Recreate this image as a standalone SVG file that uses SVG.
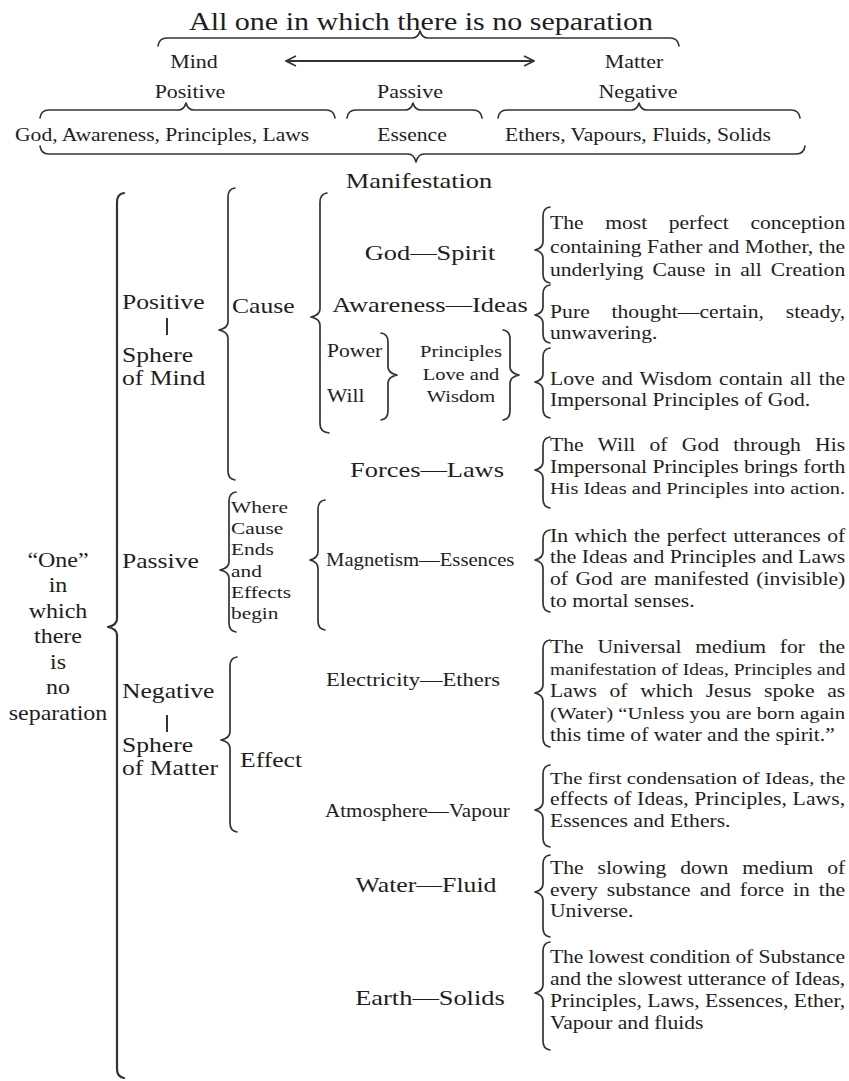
<svg xmlns="http://www.w3.org/2000/svg" width="849" height="1081" viewBox="0 0 849 1081">
<style>
text{font-family:"Liberation Serif","Times New Roman",serif;fill:#1e1e1e}
.m{text-anchor:middle}
.f25{font-size:25px}.f22{font-size:22px}.f21{font-size:21px}.f20{font-size:20px}.f18{font-size:18px}.f175{font-size:17.5px}.f185{font-size:18.5px}
.br{fill:none;stroke:#333;stroke-width:1.7;stroke-linecap:round;stroke-linejoin:round}
.big{stroke-width:2.2}
.bar{stroke:#333;stroke-width:2}
</style>
<defs>
<marker id="arr" viewBox="0 0 12 12" refX="11" refY="6" markerWidth="12" markerHeight="12" markerUnits="userSpaceOnUse" orient="auto-start-reverse">
<path d="M1,1 L11,6 L1,11" fill="none" stroke="#333" stroke-width="1.6"/>
</marker>
</defs>
<rect width="849" height="1081" fill="#fff"/>

<g id="connectors">
<path class="br" d="M158,46 Q159,38 167,38 L412,38 Q418,38 420,31 Q422,38 428,38 L670,38 Q678,38 679,46"/>
<line x1="286" y1="61" x2="534" y2="61" stroke="#333" stroke-width="1.8" marker-start="url(#arr)" marker-end="url(#arr)"/>
<path class="br" d="M40,118 Q41,110 49,110 L178,110 Q184,110 186,103 Q188,110 194,110 L326,110 Q334,110 335,118"/>
<path class="br" d="M347,118 Q348,110 356,110 L405,110 Q411,110 413,103 Q415,110 421,110 L473,110 Q481,110 482,118"/>
<path class="br" d="M498,118 Q499,110 507,110 L631,110 Q637,110 639,103 Q641,110 647,110 L791,110 Q799,110 800,118"/>
<path class="br" d="M40,146 Q41,154 49,154 L408,154 Q414,154 416,162 Q418,154 424,154 L796,154 Q804,154 805,146"/>
<path class="br big" d="M124,193 Q117,194 117,202 L117,619 Q117,625 108,627 Q117,629 117,635 L117,1069 Q117,1077 124,1078"/>
<path class="br" d="M235,188 Q228,189 228,197 L228,322 Q228,328 219,330 Q228,332 228,338 L228,471 Q228,479 235,480"/>
<path class="br" d="M327,193 Q320,194 320,202 L320,309 Q320,315 311,317 Q320,319 320,325 L320,424 Q320,432 329,433"/>
<path class="br" d="M236,492 Q229,493 229,501 L229,562 Q229,568 220,570 Q229,572 229,578 L229,623 Q229,631 236,632"/>
<path class="br" d="M325,500 Q318,501 318,509 L318,552 Q318,558 310,560 Q318,562 318,568 L318,621 Q318,629 325,630"/>
<path class="br" d="M237,657 Q230,658 230,666 L230,732 Q230,738 221,740 Q230,742 230,748 L230,823 Q230,831 237,832"/>
<path class="br" d="M381,333 Q388,334 388,342 L388,367 Q388,373 397,375 Q388,377 388,383 L388,411 Q388,419 381,420"/>
<path class="br" d="M503,330 Q510,331 510,339 L510,367 Q510,373 519,375 Q510,377 510,383 L510,411 Q510,419 503,420"/>
<path class="br" d="M550,207 Q543,208 543,216 L543,242 Q543,248 535,250 Q543,252 543,258 L543,274 Q543,282 550,283"/>
<path class="br" d="M550,285 Q543,286 543,294 L543,307 Q543,313 535,315 Q543,317 543,323 L543,334 Q543,342 550,343"/>
<path class="br" d="M550,348 Q543,349 543,357 L543,374 Q543,380 535,382 Q543,384 543,390 L543,409 Q543,417 550,418"/>
<path class="br" d="M550,437 Q543,438 543,446 L543,462 Q543,468 535,470 Q543,472 543,478 L543,499 Q543,507 550,508"/>
<path class="br" d="M550,530 Q543,531 543,539 L543,552 Q543,558 535,560 Q543,562 543,568 L543,603 Q543,611 550,612"/>
<path class="br" d="M550,640 Q543,641 543,649 L543,685 Q543,691 535,693 Q543,695 543,701 L543,738 Q543,746 550,747"/>
<path class="br" d="M550,765 Q543,766 543,774 L543,802 Q543,808 535,810 Q543,812 543,818 L543,838 Q543,846 550,847"/>
<path class="br" d="M550,855 Q543,856 543,864 L543,884 Q543,890 535,892 Q543,894 543,900 L543,928 Q543,936 550,937"/>
<path class="br" d="M550,942 Q543,943 543,951 L543,985 Q543,991 535,993 Q543,995 543,1001 L543,1041 Q543,1049 550,1050"/>
</g>

<g id="title"><text class="f25 m" transform="translate(421,30) scale(1.2,1)">All one in which there is no separation</text></g>
<g id="mind"><text class="f18 m" transform="translate(194,68) scale(1.22,1)">Mind</text></g>
<g id="matter"><text class="f18 m" transform="translate(634,68) scale(1.22,1)">Matter</text></g>
<g id="top-positive"><text class="f18 m" transform="translate(190,98) scale(1.22,1)">Positive</text></g>
<g id="top-passive"><text class="f18 m" transform="translate(410,98) scale(1.22,1)">Passive</text></g>
<g id="top-negative"><text class="f18 m" transform="translate(638,98) scale(1.22,1)">Negative</text></g>
<g id="top-god"><text class="f18" transform="translate(15,141) scale(1.2,1)">God, Awareness, Principles, Laws</text></g>
<g id="top-essence"><text class="f18 m" transform="translate(412,141) scale(1.2,1)">Essence</text></g>
<g id="top-ethers"><text class="f18" transform="translate(505,141) scale(1.2,1)">Ethers, Vapours, Fluids, Solids</text></g>
<g id="manifestation"><text class="f22 m" transform="translate(419,188) scale(1.2,1)">Manifestation</text></g>

<g id="one">
<text class="f20 m" transform="translate(58,567) scale(1.2,1)">“One”</text>
<text class="f20 m" transform="translate(58,592) scale(1.2,1)">in</text>
<text class="f20 m" transform="translate(58,618) scale(1.2,1)">which</text>
<text class="f20 m" transform="translate(58,643) scale(1.2,1)">there</text>
<text class="f20 m" transform="translate(58,669) scale(1.2,1)">is</text>
<text class="f20 m" transform="translate(58,694) scale(1.2,1)">no</text>
<text class="f20 m" transform="translate(58,720) scale(1.2,1)">separation</text>
</g>

<g id="positive-mind">
<text class="f21" transform="translate(122,309) scale(1.22,1)">Positive</text>
<line class="bar" x1="167" y1="318" x2="167" y2="335"/>
<text class="f21" transform="translate(122,362) scale(1.22,1)">Sphere</text>
<text class="f21" transform="translate(122,385) scale(1.22,1)">of Mind</text>
</g>
<g id="cause"><text class="f21" transform="translate(232,313) scale(1.22,1)">Cause</text></g>
<g id="passive"><text class="f21" transform="translate(122,568) scale(1.22,1)">Passive</text></g>
<g id="where-cause">
<text class="f175" transform="translate(231,513) scale(1.22,1)">Where</text>
<text class="f175" transform="translate(231,534) scale(1.22,1)">Cause</text>
<text class="f175" transform="translate(231,555) scale(1.22,1)">Ends</text>
<text class="f175" transform="translate(231,577) scale(1.22,1)">and</text>
<text class="f175" transform="translate(231,598) scale(1.22,1)">Effects</text>
<text class="f175" transform="translate(231,619) scale(1.22,1)">begin</text>
</g>
<g id="negative-matter">
<text class="f21" transform="translate(122,698) scale(1.22,1)">Negative</text>
<line class="bar" x1="167" y1="715" x2="167" y2="732"/>
<text class="f21" transform="translate(122,752) scale(1.22,1)">Sphere</text>
<text class="f21" transform="translate(122,775) scale(1.22,1)">of Matter</text>
</g>
<g id="effect"><text class="f21" transform="translate(240,767) scale(1.22,1)">Effect</text></g>

<g id="god-spirit"><text class="f22 m" transform="translate(430,260) scale(1.2,1)">God—Spirit</text></g>
<g id="awareness-ideas"><text class="f22 m" transform="translate(430,312) scale(1.2,1)">Awareness—Ideas</text></g>
<g id="power-will">
<text class="f18" transform="translate(327,357) scale(1.2,1)">Power</text>
<text class="f18" transform="translate(327,402) scale(1.2,1)">Will</text>
</g>
<g id="principles">
<text class="f175 m" transform="translate(461,357) scale(1.17,1)">Principles</text>
<text class="f175 m" transform="translate(461,380) scale(1.17,1)">Love and</text>
<text class="f175 m" transform="translate(461,402) scale(1.17,1)">Wisdom</text>
</g>
<g id="forces-laws"><text class="f22 m" transform="translate(427,477) scale(1.2,1)">Forces—Laws</text></g>
<g id="magnetism"><text class="f18" transform="translate(326,566) scale(1.15,1)">Magnetism—Essences</text></g>
<g id="electricity"><text class="f185" transform="translate(326,686) scale(1.22,1)">Electricity—Ethers</text></g>
<g id="atmosphere"><text class="f18" transform="translate(325,817) scale(1.17,1)">Atmosphere—Vapour</text></g>
<g id="water"><text class="f22 m" transform="translate(426,892) scale(1.17,1)">Water—Fluid</text></g>
<g id="earth"><text class="f22 m" transform="translate(430,1005) scale(1.2,1)">Earth—Solids</text></g>

<g id="desc-god" class="f18" transform="translate(550,0) scale(1.2,1)">
<text y="229" textLength="246" lengthAdjust="spacing" style="word-spacing:13.5px">The most perfect conception</text>
<text y="253" textLength="246" lengthAdjust="spacing">containing Father and Mother, the</text>
<text y="276" textLength="246" lengthAdjust="spacing" style="word-spacing:3px">underlying Cause in all Creation</text>
</g>
<g id="desc-awareness" class="f18" transform="translate(550,0) scale(1.2,1)">
<text y="318" textLength="246" lengthAdjust="spacing" style="word-spacing:13.5px">Pure thought—certain, steady,</text>
<text y="339">unwavering.</text>
</g>
<g id="desc-love" class="f18" transform="translate(550,0) scale(1.2,1)">
<text y="385" textLength="246" lengthAdjust="spacing" style="word-spacing:1.3px">Love and Wisdom contain all the</text>
<text y="406">Impersonal Principles of God.</text>
</g>
<g id="desc-forces" class="f18" transform="translate(550,0) scale(1.2,1)">
<text y="451" textLength="246" lengthAdjust="spacing" style="word-spacing:7.3px">The Will of God through His</text>
<text y="473" textLength="246" lengthAdjust="spacing">Impersonal Principles brings forth</text>
<text y="494" textLength="246" lengthAdjust="spacing" style="font-size:17px">His Ideas and Principles into action.</text>
</g>
<g id="desc-magnetism" class="f18" transform="translate(550,0) scale(1.2,1)">
<text y="542" textLength="246" lengthAdjust="spacing" style="word-spacing:1px">In which the perfect utterances of</text>
<text y="563" textLength="246" lengthAdjust="spacing">the Ideas and Principles and Laws</text>
<text y="585" textLength="246" lengthAdjust="spacing" style="word-spacing:1.75px">of God are manifested (invisible)</text>
<text y="607">to mortal senses.</text>
</g>
<g id="desc-electricity" class="f18" transform="translate(550,0) scale(1.2,1)">
<text y="653" textLength="246" lengthAdjust="spacing" style="word-spacing:7px">The Universal medium for the</text>
<text y="675" textLength="246" lengthAdjust="spacing" style="font-size:16.3px">manifestation of Ideas, Principles and</text>
<text y="697" textLength="246" lengthAdjust="spacing" style="word-spacing:6px">Laws of which Jesus spoke as</text>
<text y="719" textLength="246" lengthAdjust="spacing" style="font-size:17.3px">(Water) “Unless you are born again</text>
<text y="741">this time of water and the spirit.”</text>
</g>
<g id="desc-atmosphere" class="f18" transform="translate(550,0) scale(1.2,1)">
<text y="784" textLength="246" lengthAdjust="spacing" style="font-size:17.4px">The first condensation of Ideas, the</text>
<text y="805" textLength="246" lengthAdjust="spacing">effects of Ideas, Principles, Laws,</text>
<text y="827">Essences and Ethers.</text>
</g>
<g id="desc-water" class="f18" transform="translate(550,0) scale(1.2,1)">
<text y="874" textLength="246" lengthAdjust="spacing" style="word-spacing:7px">The slowing down medium of</text>
<text y="896" textLength="246" lengthAdjust="spacing" style="word-spacing:3px">every substance and force in the</text>
<text y="917">Universe.</text>
</g>
<g id="desc-earth" class="f18" transform="translate(550,0) scale(1.2,1)">
<text y="963" textLength="246" lengthAdjust="spacing">The lowest condition of Substance</text>
<text y="985" textLength="246" lengthAdjust="spacing">and the slowest utterance of Ideas,</text>
<text y="1007" textLength="246" lengthAdjust="spacing">Principles, Laws, Essences, Ether,</text>
<text y="1029">Vapour and fluids</text>
</g>
</svg>
